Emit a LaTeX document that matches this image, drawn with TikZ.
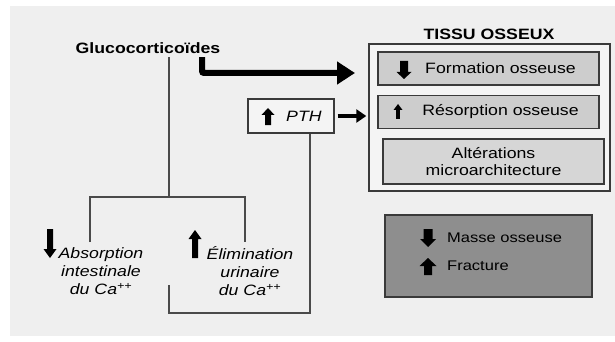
\documentclass[tikz,border=0pt]{standalone}
\usepackage{fontspec}
\setmainfont{Liberation Sans}[FakeStretch=1.18]
\usetikzlibrary{arrows.meta,positioning}

\definecolor{fondgris}{HTML}{EFEFEF}
\definecolor{trait}{HTML}{4A4A4A}
\definecolor{bord}{HTML}{3A3A3A}
\definecolor{cadre}{HTML}{F4F4F4}
\definecolor{boite}{HTML}{CDCDCD}
\definecolor{boiteclair}{HTML}{D6D6D6}
\definecolor{boitefonce}{HTML}{8E8E8E}

% petites fleches pleines (x, haut, bas, demi-tige, demi-tete, longueur tete)
\newcommand{\flechehaut}[6]{\fill (#1-#4,#3) -- (#1-#4,#2+#6) -- (#1-#5,#2+#6) -- (#1,#2) -- (#1+#5,#2+#6) -- (#1+#4,#2+#6) -- (#1+#4,#3) -- cycle;}
\newcommand{\flechebas}[6]{\fill (#1-#4,#2) -- (#1-#4,#3-#6) -- (#1-#5,#3-#6) -- (#1,#3) -- (#1+#5,#3-#6) -- (#1+#4,#3-#6) -- (#1+#4,#2) -- cycle;}

\begin{document}
\begin{tikzpicture}[x=1pt,y=-1pt,
  lien/.style={draw=trait, line width=1.3pt},
  boitetexte/.style={rectangle, draw=bord, line width=1.4pt, fill=boite, minimum width=221pt, minimum height=33pt, font=\fontsize{15}{17}\selectfont},
  legende/.style={align=center, inner sep=0pt, font=\fontsize{15}{18}\selectfont\itshape},
  grossefleche/.style={line width=6pt, rounded corners=2pt, -{Triangle[length=18pt,width=22pt]}},
  moyfleche/.style={line width=4pt, -{Triangle[length=10pt,width=13pt]}}]
\useasboundingbox (0,0) rectangle (615,342);
\fill[fondgris] (10,6) rectangle (615,336);

\node[font=\bfseries\fontsize{15}{17}\selectfont] at (148,48) (gluco) {Glucocorticoïdes};
\node[font=\bfseries\fontsize{15}{17}\selectfont] at (489,34) (titre) {TISSU OSSEUX};
\node[rectangle, draw=bord, line width=1.4pt, fill=cadre, minimum width=241pt, minimum height=147pt] at (489.5,117.5) (tissu) {};
\node[boitetexte] at (488.5,68.5) (form) {\hspace*{24pt}Formation osseuse};
\node[boitetexte] at (488.5,112) (reso) {\hspace*{24pt}Résorption osseuse};
\node[boitetexte, fill=boiteclair, minimum height=45pt, align=center, font=\fontsize{15}{17}\selectfont] at (493.5,161.5) (alt) {Altérations\\microarchitecture};
\node[rectangle, draw=bord, line width=1.4pt, fill=cadre, minimum width=86pt, minimum height=34pt] at (291,116) (pth) {};
\node[anchor=west, inner sep=0pt, font=\fontsize{15}{17}\selectfont\itshape] at (286,116) (pthtxt) {PTH};
\node[rectangle, draw=bord, line width=1.4pt, fill=boitefonce, minimum width=207pt, minimum height=82pt] at (488.5,256) (masse) {};
\node[anchor=west, inner sep=0pt, font=\fontsize{14}{16}\selectfont] at (447,238) (massetxt) {Masse osseuse};
\node[anchor=west, inner sep=0pt, font=\fontsize{14}{16}\selectfont] at (447,266) (fracture) {Fracture};
\node[legende] at (101,271) (absorb) {Absorption\\intestinale\\du Ca\textsuperscript{++}};
\node[legende] at (250,271) (elim) {Élimination\\urinaire\\du Ca\textsuperscript{++}};

\coordinate (jct) at (169,197);
\coordinate (gauche) at (90,242);
\coordinate (droite) at (245,242);
\coordinate (gtip) at (355,73);
\coordinate (boucle) at (169,313);
\coordinate (bouclefin) at (169,285);

\draw[lien] (gluco.south -| jct) -- (jct);
\draw[lien] (gauche) |- (jct) -| (droite);
\draw[lien] ([xshift=19pt]pth.south) |- (boucle) -- (bouclefin);
\draw[grossefleche] ([xshift=54pt]gluco.south) |- (gtip);
\draw[moyfleche] ([xshift=3pt]pth.east) -- ([xshift=-2pt]pth.east -| tissu.west);

\flechebas{404}{61}{79}{4}{7.5}{7}
\flechehaut{398}{104}{119}{1.8}{4.5}{6}
\flechehaut{268}{108}{125}{3}{6.5}{7}
\flechebas{428}{229}{247}{4.5}{8}{8}
\flechehaut{428}{258}{275}{4}{8.5}{8}
\flechebas{50}{229}{258}{3}{6.5}{9}
\flechehaut{195}{230}{258}{3}{6.5}{9}
\end{tikzpicture}
\end{document}
